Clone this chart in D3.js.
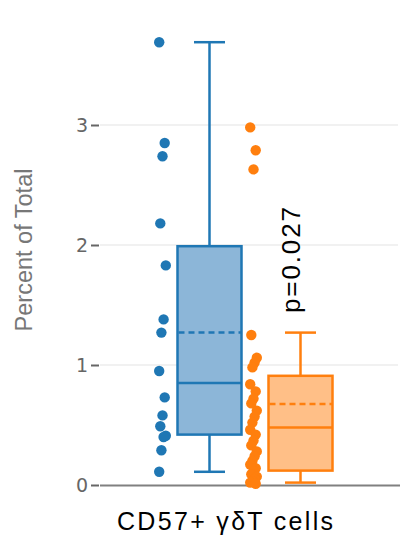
<!DOCTYPE html>
<html><head><meta charset="utf-8">
<script src="https://cdn.jsdelivr.net/npm/d3@7"></script>
<style>html,body{margin:0;padding:0;background:#fff;}</style>
</head><body>
<svg id="chart" width="401" height="540"></svg>
<script>
const groups = ["Group A", "Group B"];
const colors = ["#1f77b4", "#ff7f0e"];
const fills = ["#8cb6d8", "#ffbf87"];
const pointsA = [3.69, 2.85, 2.74, 2.18, 1.83, 1.38, 1.27, 0.95, 0.73, 0.58, 0.49, 0.41, 0.40, 0.29, 0.11];
const pointsB = [2.98, 2.79, 2.63, 1.25, 1.06, 1.02, 0.98, 0.84, 0.78, 0.72, 0.68, 0.62, 0.57, 0.52, 0.46, 0.42, 0.37, 0.33, 0.28, 0.24, 0.20, 0.17, 0.14, 0.11, 0.09, 0.07, 0.05, 0.03, 0.02, 0.01];
const whiskerLow = [0.11, 0.02];
const q1 = [0.42, 0.12];
const median = [0.85, 0.48];
const mean = [1.27, 0.675];
const q3 = [1.99, 0.91];
const whiskerHigh = [3.69, 1.27];
const yTicks = [0, 1, 2, 3];
const yLabel = "Percent of Total";
const xLabel = "CD57+ γδT cells";
const pLabel = "p=0.027";

const svg = d3.select("#chart");
const y = d3.scaleLinear().domain([0, 3]).range([485, 125]);
const x = d3.scaleBand().domain(groups).range([140, 322]).padding(0);

// grid
svg.append("g").selectAll("line").data(yTicks.filter(t => t > 0)).join("line")
  .attr("x1", 100).attr("x2", 398).attr("y1", d => y(d)).attr("y2", d => y(d))
  .attr("stroke", "#ececec").attr("stroke-width", 1.5);

// y axis
const yAxis = d3.axisLeft(y).tickValues(yTicks).tickFormat(d3.format("d")).tickSize(8).tickPadding(3);
const ga = svg.append("g").attr("transform", "translate(99,0)").call(yAxis);
ga.select(".domain").remove();
ga.selectAll(".tick line").attr("stroke", "#666").attr("stroke-width", 2);
ga.selectAll(".tick text").attr("fill", "#666").attr("font-family", "DejaVu Sans, sans-serif").attr("font-size", 19);

// x axis baseline
svg.append("line").attr("x1", 100).attr("x2", 400).attr("y1", y(0) + 0.5).attr("y2", y(0) + 0.5)
  .attr("stroke", "#808080").attr("stroke-width", 2);

// boxes
const boxW = 64, capW = 31;
groups.forEach((g, i) => {
  const cx = x(g) + x.bandwidth() / 2 + 24;
  const gb = svg.append("g");
  gb.append("line").attr("x1", cx).attr("x2", cx).attr("y1", y(whiskerHigh[i])).attr("y2", y(q3[i]))
    .attr("stroke", colors[i]).attr("stroke-width", 2.5);
  gb.append("line").attr("x1", cx).attr("x2", cx).attr("y1", y(q1[i])).attr("y2", y(whiskerLow[i]))
    .attr("stroke", colors[i]).attr("stroke-width", 2.5);
  [whiskerHigh[i], whiskerLow[i]].forEach(v => {
    gb.append("line").attr("x1", cx - capW / 2).attr("x2", cx + capW / 2).attr("y1", y(v)).attr("y2", y(v))
      .attr("stroke", colors[i]).attr("stroke-width", 2.5);
  });
  gb.append("rect").attr("x", cx - boxW / 2).attr("width", boxW)
    .attr("y", y(q3[i])).attr("height", y(q1[i]) - y(q3[i]))
    .attr("fill", fills[i]).attr("stroke", colors[i]).attr("stroke-width", 2.5);
  gb.append("line").attr("x1", cx - boxW / 2).attr("x2", cx + boxW / 2).attr("y1", y(median[i])).attr("y2", y(median[i]))
    .attr("stroke", colors[i]).attr("stroke-width", 2.5);
  gb.append("line").attr("x1", cx - boxW / 2 + 1).attr("x2", cx + boxW / 2).attr("y1", y(mean[i])).attr("y2", y(mean[i]))
    .attr("stroke", colors[i]).attr("stroke-width", 2.5).attr("stroke-dasharray", "6,4");
});

// points
[pointsA, pointsB].forEach((pts, i) => {
  const cx = x(groups[i]) + x.bandwidth() / 2 - 23;
  svg.append("g").selectAll("circle").data(pts).join("circle")
    .attr("cx", (d, j) => cx + (((j * 5) % 7) - 3) * 1.1)
    .attr("cy", d => y(d)).attr("r", 5.2).attr("fill", colors[i]);
});

// p value
svg.append("text").attr("transform", `translate(300,313) rotate(-90)`)
  .attr("font-family", "Liberation Sans, Arial, sans-serif").attr("font-size", 26)
  .attr("textLength", 106).attr("lengthAdjust", "spacing")
  .attr("fill", "#000").text(pLabel);

// y label
svg.append("text").attr("transform", `translate(32,250) rotate(-90)`)
  .attr("text-anchor", "middle").attr("font-family", "Liberation Sans, Arial, sans-serif")
  .attr("font-size", 23.5).attr("fill", "#777").text(yLabel);

// x label
svg.append("text").attr("x", 117).attr("y", 530)
  .attr("font-family", "Liberation Sans, Arial, sans-serif").attr("font-size", 25)
  .attr("textLength", 216).attr("lengthAdjust", "spacing")
  .attr("fill", "#000").text(xLabel);
</script>
</body></html>
